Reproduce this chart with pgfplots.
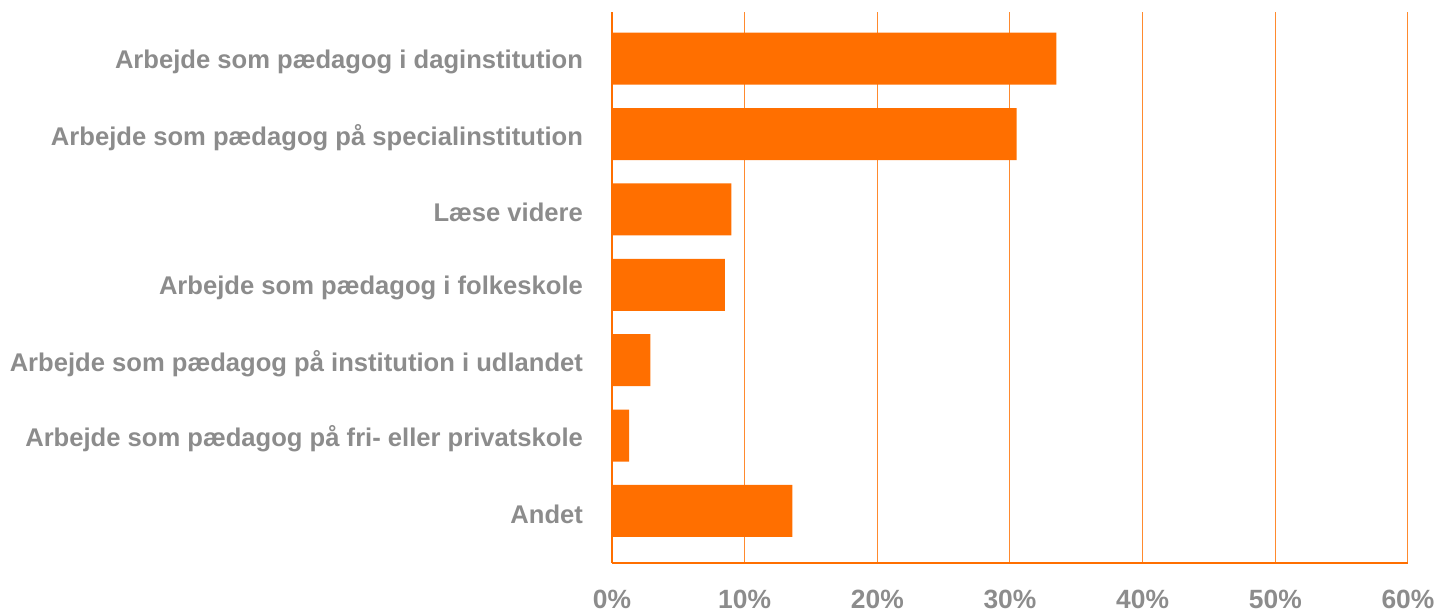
\documentclass[border=0pt]{standalone}
\usepackage{pgfplots}
\pgfplotsset{compat=1.18}
\usepackage{fontspec}
\setmainfont{Liberation Sans}
\definecolor{barorange}{HTML}{FF6F00}
\definecolor{gridorange}{HTML}{FF8A2E}
\definecolor{txtgray}{HTML}{8C8C8C}
\begin{document}
\begin{tikzpicture}
\begin{axis}[
  scale only axis,
  width=398pt, height=275.5pt,
  xmin=0, xmax=60, ymin=-0.69, ymax=6.62,
  xbar, bar width=26pt,
  axis x line*=bottom, axis y line*=left,
  axis line style={-, draw=barorange, line width=1.3pt},
  xtick={0,10,...,60},
  xticklabel={\pgfmathprintnumber{\tick}\%},
  /pgf/number format/assume math mode=true,
  xmajorgrids, grid style={draw=gridorange, line width=0.5pt},
  major tick length=0pt,
  ytick={0,...,6},
  yticklabels={Andet, Arbejde som pædagog på fri- eller privatskole, Arbejde som pædagog på institution i udlandet, Arbejde som pædagog i folkeskole, Læse videre, Arbejde som pædagog på specialinstitution, Arbejde som pædagog i daginstitution},
  yticklabel style={font=\fontsize{12.8pt}{14pt}\selectfont\bfseries, text=txtgray, anchor=east, xshift=-11pt, yshift=-1.6pt},
  xticklabel style={font=\fontsize{13.2pt}{14pt}\selectfont\bfseries, text=txtgray, anchor=north, yshift=-10pt},
  clip=false,
]
\addplot[fill=barorange, draw=none] coordinates {
 (13.6,0) (1.3,1) (2.9,2) (8.5,3) (9.0,4) (30.5,5) (33.5,6)};
\end{axis}
\pgfresetboundingbox
\path (current axis.south west) ++(-306pt,-25.5pt) rectangle ++(718.5pt,307pt);
\end{tikzpicture}
\end{document}
